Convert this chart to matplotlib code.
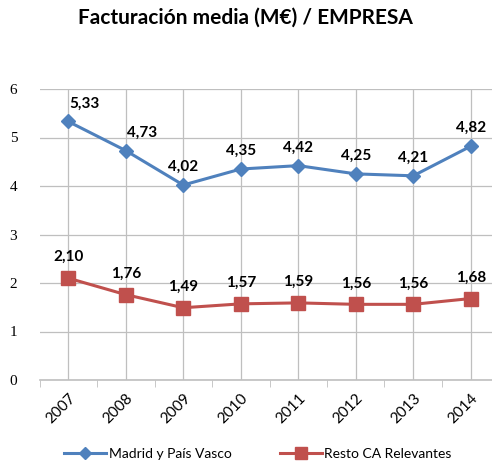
import matplotlib.pyplot as plt
import numpy as np

years = ["2007", "2008", "2009", "2010", "2011", "2012", "2013", "2014"]
madrid_pv = [5.33, 4.73, 4.02, 4.35, 4.42, 4.25, 4.21, 4.82]
resto_ca = [2.10, 1.76, 1.49, 1.57, 1.59, 1.56, 1.56, 1.68]
series_names = ["Madrid y País Vasco", "Resto CA Relevantes"]

blue = "#4F81BD"
red = "#C0504D"
grid_c = "#BFBFBF"
sans = ["Lato", "DejaVu Sans"]

fig = plt.figure(figsize=(4.92, 4.66), dpi=100)
ax = fig.add_axes([39.5 / 492, 86 / 466, 460 / 492, 291 / 466])

x = np.arange(len(years))
ax.plot(x, madrid_pv, color=blue, lw=2.2, marker="D", ms=7.5, label=series_names[0], zorder=3)
ax.plot(x, resto_ca, color=red, lw=2.2, marker="s", ms=10, label=series_names[1], zorder=3)

# label offsets in points (first two blue labels sit to the right of the line)
blue_dx = [12, 12, 0, 0, 0, 0, 0, 0]
for i, v in enumerate(madrid_pv):
    ax.annotate(f"{v:.2f}".replace(".", ","), (x[i], v), xytext=(blue_dx[i], 8),
                textcoords="offset points", ha="center", va="bottom",
                fontsize=11, fontweight="bold", family=sans)
for i, v in enumerate(resto_ca):
    ax.annotate(f"{v:.2f}".replace(".", ","), (x[i], v), xytext=(0, 10),
                textcoords="offset points", ha="center", va="bottom",
                fontsize=11, fontweight="bold", family=sans)

ax.set_xlim(-0.5, len(years) - 0.5)
ax.set_ylim(0, 6)
ax.set_yticks(range(7))
ax.set_yticklabels([str(t) for t in range(7)], family="Liberation Serif", fontsize=11)
ax.set_xticks(x)
ax.set_xticklabels(years, rotation=45, ha="right", rotation_mode="anchor",
                   family=sans, fontsize=11)
ax.set_xticks(np.arange(-0.5, len(years)), minor=True)
ax.tick_params(axis="x", which="major", length=0, pad=8)
ax.tick_params(axis="x", which="minor", length=5, color=grid_c)
ax.tick_params(axis="y", length=0, pad=16)

ax.grid(True, color=grid_c, lw=0.9)
ax.set_axisbelow(True)
for s in ["top", "right", "left"]:
    ax.spines[s].set_visible(False)
ax.spines["bottom"].set_color(grid_c)
ax.spines["bottom"].set_linewidth(1.2)

fig.text(245 / 492, 1 - 18 / 466, "Facturación media (M€) / EMPRESA", ha="center", va="center",
         fontsize=15, fontweight="bold", family=sans)

fig.legend(loc="center", bbox_to_anchor=(258 / 492, 1 - 454 / 466), ncol=2, frameon=False,
           prop={"family": sans, "size": 10}, handlelength=3, columnspacing=3.5,
           handletextpad=0.2, markerscale=0.8)

fig.savefig("out.png", dpi=100)
